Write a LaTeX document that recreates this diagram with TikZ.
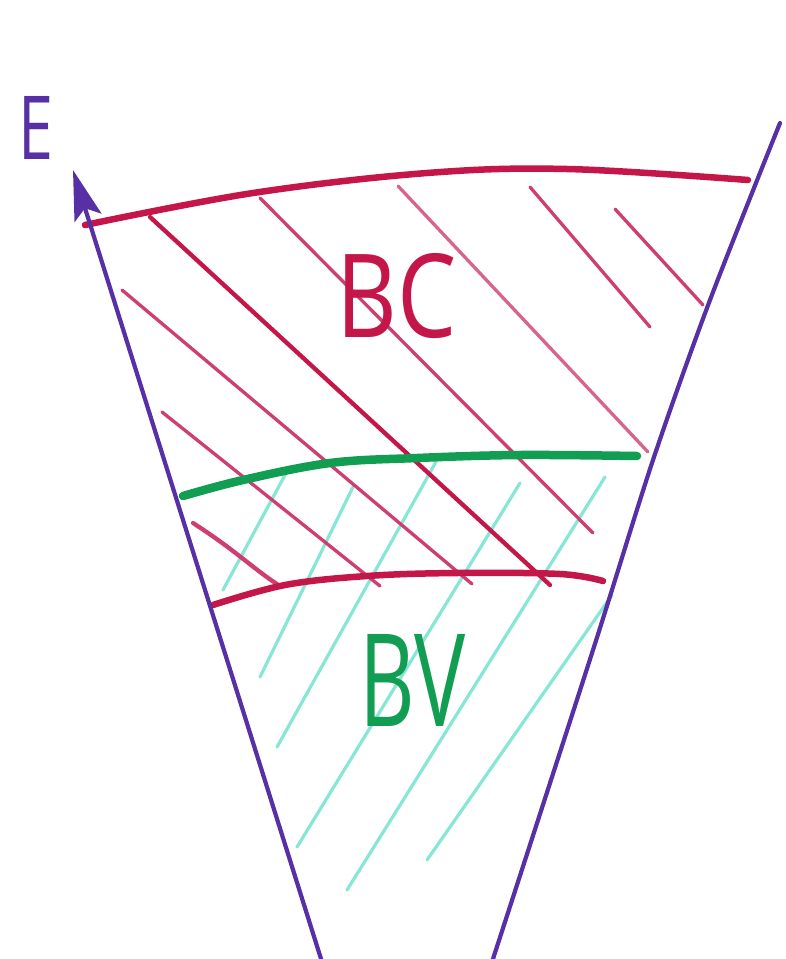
\documentclass[tikz,border=0pt]{standalone}
\usepackage{graphicx}
\usepackage{fontspec}
\setmainfont{Open Sans}
\usetikzlibrary{arrows.meta}
\definecolor{axpurple}{RGB}{88,48,165}
\definecolor{bcred}{RGB}{196,22,72}
\definecolor{hatchred}{RGB}{206,62,112}
\definecolor{bvgreen}{RGB}{18,158,82}
\definecolor{hatchteal}{RGB}{95,222,200}
\tikzset{
  axis/.style={draw=axpurple, line width=4.2pt, line cap=round},
  bound/.style={draw=bcred, line width=6.5pt, line cap=round},
  greenbound/.style={draw=bvgreen, line width=8.5pt, line cap=round},
  hatchR/.style={draw=hatchred, line width=3.3pt, line cap=round},
  hatchRdark/.style={draw=bcred, line width=4.3pt, line cap=round},
  hatchG/.style={draw=hatchteal, line width=3.2pt, line cap=round, opacity=0.75},
  lbl/.style={inner sep=0pt, anchor=center}
}
\begin{document}
\begin{tikzpicture}[x=1pt,y=-1pt]
\useasboundingbox (0,0) rectangle (785,959);
\fill[white] (0,0) rectangle (785,959);

% teal hatching (BV region)
\coordinate (t1a) at (285,475); \coordinate (t1b) at (223,590);
\coordinate (t2a) at (353,487); \coordinate (t2b) at (260,677);
\coordinate (t3a) at (437,460); \coordinate (t3b) at (277,747);
\coordinate (t4a) at (520,483); \coordinate (t4b) at (297,847);
\coordinate (t5a) at (605,477); \coordinate (t5b) at (347,890);
\coordinate (t6a) at (612,595); \coordinate (t6b) at (427,860);
\foreach \i in {1,...,6} \draw[hatchG] (t\i a) -- (t\i b);

% red hatching (BC region)
\coordinate (ra1) at (150,217); \coordinate (ra2) at (550,585);
\coordinate (rb1) at (122,290); \coordinate (rb2) at (472,584);
\coordinate (rc1) at (162,412); \coordinate (rc2) at (380,586);
\coordinate (rd1) at (260,198); \coordinate (rd2) at (593,533);
\coordinate (re1) at (398,186); \coordinate (re2) at (648,452);
\coordinate (rf1) at (530,187); \coordinate (rf2) at (650,327);
\coordinate (rg1) at (615,209); \coordinate (rg2) at (703,305);
\draw[hatchRdark] (ra1) -- (ra2);
\draw[hatchR] (rb1) -- (rb2);
\draw[hatchR] (rc1) -- (rc2);
\draw[hatchR] (rd1) -- (rd2);
\draw[hatchR, opacity=0.8] (re1) -- (re2);
\draw[hatchR] (rf1) -- (rf2);
\draw[hatchR] (rg1) -- (rg2);
\coordinate (rh1) at (193,523); \coordinate (rh2) at (277,584);
\draw[hatchR, line width=4.3pt] (rh1) .. controls (235,550) and (255,570) .. (rh2);

% boundary curves
\draw[bound] plot[smooth, tension=0.6] coordinates {(85,225) (253,193) (427,173) (567,169) (748,180)};
\draw[greenbound] plot[smooth, tension=0.6] coordinates {(183,496) (243,480) (330,463) (417,458) (520,455) (637,456)};
\draw[bound] plot[smooth, tension=0.6] coordinates {(213,605) (285,585) (367,576) (457,573) (560,574) (603,581)};

% axes
\coordinate (ltop) at (73,170);
\coordinate (lbot) at (322,962);
\draw[axis, -{Stealth[length=50pt,width=28pt,inset=10pt]}] (lbot) -- (ltop);
\draw[axis] plot[smooth, tension=0.5] coordinates {(780,123) (710,300) (653,460) (593,650) (492,962)};

% labels
\node[lbl, text=axpurple] (E) at (36,128) {\resizebox{35pt}{63pt}{E}};
\node[lbl, text=bcred] (BC) at (397,296) {\resizebox{120pt}{84pt}{BC}};
\node[lbl, text=bvgreen] (BV) at (413,680) {\resizebox{106pt}{92pt}{BV}};
\end{tikzpicture}
\end{document}
